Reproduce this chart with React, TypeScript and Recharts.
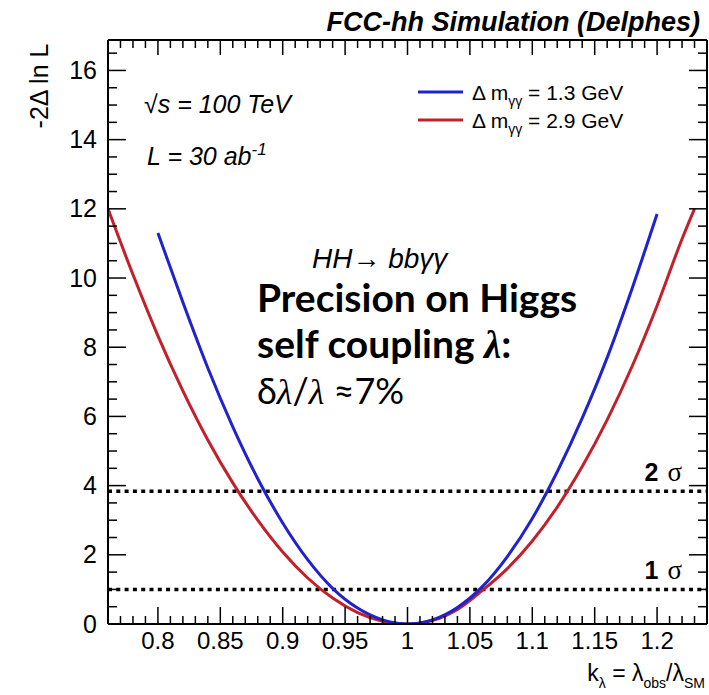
import { LineChart, Line, XAxis, YAxis, ReferenceLine } from 'recharts';

// k_lambda grid (step 0.02) and -2 Delta ln L
const blueK = [0.8, 0.82, 0.84, 0.86, 0.88, 0.9, 0.92, 0.94, 0.96, 0.98, 1.0, 1.02, 1.04, 1.06, 1.08, 1.1, 1.12, 1.14, 1.16, 1.18, 1.2];
const blueNll = [11.3, 9.3, 7.4, 5.7, 4.2, 2.92, 1.86, 1.03, 0.46, 0.12, 0.0, 0.12, 0.48, 1.08, 1.95, 3.05, 4.4, 5.95, 7.7, 9.7, 11.85];

const redK = [0.76, 0.78, 0.8, 0.82, 0.84, 0.86, 0.88, 0.9, 0.92, 0.94, 0.96, 0.98, 1.0, 1.02, 1.04, 1.06, 1.08, 1.1, 1.12, 1.14, 1.16, 1.18, 1.2, 1.22, 1.23];
const redNll = [12.0, 10.1, 8.33, 6.74, 5.32, 4.08, 3.0, 2.08, 1.33, 0.75, 0.33, 0.08, 0.0, 0.1, 0.42, 0.97, 1.6, 2.4, 3.38, 4.55, 5.9, 7.45, 9.2, 11.13, 12.0];

const sigmaLevels = [3.84, 1.0];
const sigmaNames = ['2', '1'];

const xLabels = [0.8, 0.85, 0.9, 0.95, 1, 1.05, 1.1, 1.15, 1.2];
const yLabels = [0, 2, 4, 6, 8, 10, 12, 14, 16];

const xDomain: [number, number] = [0.76, 1.24];
const yDomain: [number, number] = [0, 16.88];

// minor ticks every 0.01 in x, 0.5 in y
const xTicks = Array.from({ length: 49 }, (_, i) => Math.round((0.76 + i * 0.01) * 100) / 100);
const yTicks = Array.from({ length: 34 }, (_, i) => i * 0.5);

const blueData = blueK.map((k, i) => ({ k, v: blueNll[i] }));
const redData = redK.map((k, i) => ({ k, v: redNll[i] }));

const BLUE = '#2022cc';
const RED = '#c2202b';
const FONT = '"Liberation Sans", Arial, sans-serif';
const SERIF = '"Liberation Serif", serif';

const isMajorX = (v: number) => Math.abs(v * 20 - Math.round(v * 20)) < 1e-6;
const isMajorY = (v: number) => Math.abs(v / 2 - Math.round(v / 2)) < 1e-6;

const BottomTick = (props: any) => {
  const { x, y, payload } = props;
  const v = payload.value;
  const major = isMajorX(v);
  return (
    <g>
      <line x1={x} y1={y} x2={x} y2={y - (major ? 17 : 8)} stroke="#000" strokeWidth={1.5} />
      {xLabels.some((l) => Math.abs(l - v) < 1e-6) && (
        <text x={x} y={y + 25} textAnchor="middle" fontSize={24} fontFamily={FONT} fill="#000">
          {String(Math.round(v * 100) / 100)}
        </text>
      )}
    </g>
  );
};

const TopTick = (props: any) => {
  const { x, y, payload } = props;
  const major = isMajorX(payload.value);
  return <line x1={x} y1={y} x2={x} y2={y + (major ? 15 : 8)} stroke="#000" strokeWidth={1.5} />;
};

const LeftTick = (props: any) => {
  const { x, y, payload } = props;
  const v = payload.value;
  const major = isMajorY(v);
  return (
    <g>
      <line x1={x} y1={y} x2={x + (major ? 18 : 9)} y2={y} stroke="#000" strokeWidth={1.5} />
      {yLabels.includes(v) && (
        <text x={x - 11} y={y + 8.5} textAnchor="end" fontSize={25} fontFamily={FONT} fill="#000">
          {v}
        </text>
      )}
    </g>
  );
};

const RightTick = (props: any) => {
  const { x, y, payload } = props;
  const major = isMajorY(payload.value);
  return <line x1={x} y1={y} x2={x - (major ? 18 : 9)} y2={y} stroke="#000" strokeWidth={1.5} />;
};

const SigmaLabel = (name: string) => (props: any) => {
  const { viewBox } = props;
  const right = viewBox.x + viewBox.width - 25;
  return (
    <text x={right} y={viewBox.y - 10} textAnchor="end" fontSize={25} fontFamily={FONT} fill="#000">
      <tspan fontWeight="bold">{name}</tspan>
      <tspan dx={9} fontFamily={SERIF} fontSize={27}>σ</tspan>
    </text>
  );
};

const axisLine = { stroke: '#000', strokeWidth: 2 };

export default function App() {
  return (
    <div style={{ position: 'absolute', left: 0, top: 0, width: 709, height: 695, background: '#fff' }}>
      <LineChart
        width={709}
        height={695}
        margin={{ top: 39, right: 1, bottom: 70, left: 107 }}
      >
        <XAxis
          xAxisId="b"
          dataKey="k"
          type="number"
          domain={xDomain}
          ticks={xTicks}
          interval={0}
          allowDataOverflow
          height={1}
          tickSize={0}
          tickMargin={0}
          tickLine={false}
          axisLine={axisLine}
          tick={<BottomTick />}
        />
        <XAxis
          xAxisId="t"
          orientation="top"
          dataKey="k"
          type="number"
          domain={xDomain}
          ticks={xTicks}
          interval={0}
          allowDataOverflow
          height={1}
          tickSize={0}
          tickMargin={0}
          tickLine={false}
          axisLine={axisLine}
          tick={<TopTick />}
        />
        <YAxis
          yAxisId="l"
          type="number"
          domain={yDomain}
          ticks={yTicks}
          interval={0}
          allowDataOverflow
          width={1}
          tickSize={0}
          tickMargin={0}
          tickLine={false}
          axisLine={axisLine}
          tick={<LeftTick />}
        />
        <YAxis
          yAxisId="r"
          orientation="right"
          type="number"
          domain={yDomain}
          ticks={yTicks}
          interval={0}
          allowDataOverflow
          width={1}
          tickSize={0}
          tickMargin={0}
          tickLine={false}
          axisLine={axisLine}
          tick={<RightTick />}
        />
        {sigmaLevels.map((lvl, i) => (
          <ReferenceLine
            key={lvl}
            xAxisId="b"
            yAxisId="l"
            y={lvl}
            stroke="#000"
            strokeWidth={3.5}
            strokeDasharray="4 4.3"
            label={SigmaLabel(sigmaNames[i])}
          />
        ))}
        <Line
          xAxisId="b"
          yAxisId="l"
          data={redData}
          dataKey="v"
          type="monotone"
          stroke={RED}
          strokeWidth={3}
          dot={false}
          isAnimationActive={false}
        />
        <Line
          xAxisId="b"
          yAxisId="l"
          data={blueData}
          dataKey="v"
          type="monotone"
          stroke={BLUE}
          strokeWidth={3}
          dot={false}
          isAnimationActive={false}
        />
      </LineChart>

      <svg
        width={709}
        height={695}
        style={{ position: 'absolute', left: 0, top: 0, pointerEvents: 'none' }}
        fontFamily={FONT}
      >
        <text x={700} y={31} textAnchor="end" fontSize={27} fontWeight="bold" fontStyle="italic">
          FCC-hh Simulation (Delphes)
        </text>
        <text transform="translate(48,86) rotate(-90)" textAnchor="middle" fontSize={25}>
          -2Δ ln L
        </text>
        <text x={144} y={113} fontSize={25} fontStyle="italic">√s = 100 TeV</text>
        <text x={147} y={165} fontSize={25} fontStyle="italic">
          L = 30 ab<tspan dy={-10} fontSize={17}>-1</tspan>
        </text>

        <line x1={418} y1={92} x2={463} y2={92} stroke={BLUE} strokeWidth={3} />
        <text x={472} y={100} fontSize={21}>
          Δ m<tspan dy={6} fontSize={14}>γγ</tspan><tspan dy={-6}> = 1.3 GeV</tspan>
        </text>
        <line x1={418} y1={120} x2={463} y2={120} stroke={RED} strokeWidth={3} />
        <text x={472} y={128} fontSize={21}>
          Δ m<tspan dy={6} fontSize={14}>γγ</tspan><tspan dy={-6}> = 2.9 GeV</tspan>
        </text>

        <text x={312} y={268} fontSize={28} fontStyle="italic">HH→ bbγγ</text>
        <text x={257} y={312} fontSize={39} fontWeight="bold" fontFamily="Lato, sans-serif">
          Precision on Higgs
        </text>
        <text x={257} y={358} fontSize={39} fontWeight="bold" fontFamily="Lato, sans-serif">
          self coupling <tspan fontFamily={SERIF} fontStyle="italic">λ</tspan>:
        </text>
        <text x={257} y={404} fontSize={36} fontFamily="Lato, sans-serif">
          δ<tspan fontFamily={SERIF} fontStyle="italic">λ</tspan>/<tspan fontFamily={SERIF} fontStyle="italic">λ</tspan> ≈7%
        </text>

        <text x={705} y={681} textAnchor="end" fontSize={23}>
          k<tspan dy={7} fontSize={14}>λ</tspan><tspan dy={-7}> = λ</tspan><tspan dy={7} fontSize={14}>obs</tspan><tspan dy={-7}>/λ</tspan><tspan dy={7} fontSize={14}>SM</tspan>
        </text>
      </svg>
    </div>
  );
}
